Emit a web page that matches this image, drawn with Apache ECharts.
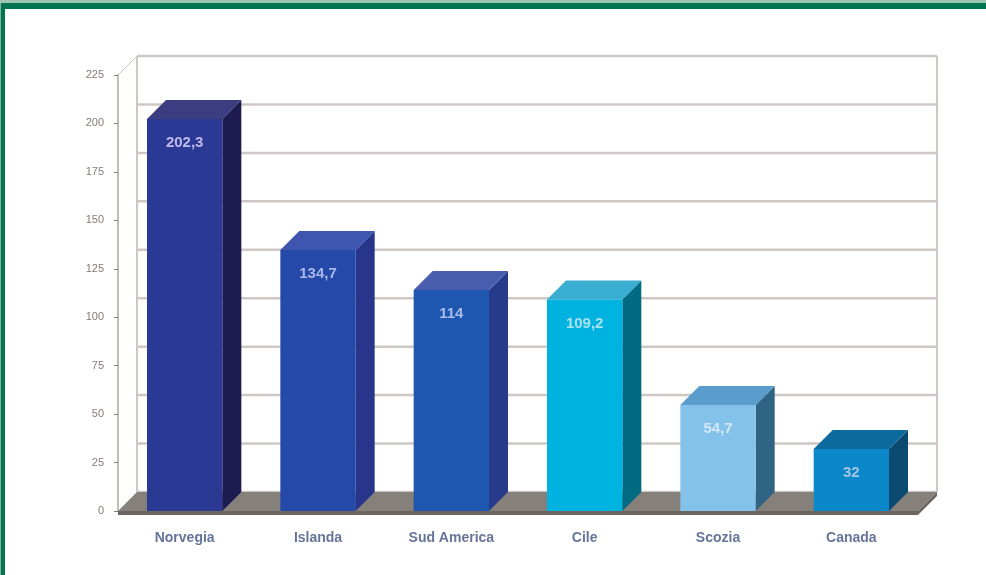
<!DOCTYPE html>
<html>
<head>
<meta charset="utf-8">
<script src="https://cdn.jsdelivr.net/npm/echarts@6/dist/echarts.min.js"></script>
<style>
html,body{margin:0;padding:0;background:#fff;}
#c{width:986px;height:575px;}
</style>
</head>
<body>
<div id="c"></div>
<script>
const categories = ['Norvegia', 'Islanda', 'Sud America', 'Cile', 'Scozia', 'Canada'];
const values = [202.3, 134.7, 114, 109.2, 54.7, 32];
const valueLabels = ['202,3', '134,7', '114', '109,2', '54,7', '32'];
const yTicks = [0, 25, 50, 75, 100, 125, 150, 175, 200, 225];

const frontColors = ['#2a3994', '#2449a8', '#1f56b0', '#00b2df', '#84c2ea', '#0a88c9'];
const sideColors  = ['#1d1b50', '#27358a', '#283a8a', '#006b82', '#2f6484', '#0b4a70'];
const topColors   = ['#3b3d80', '#3f56b0', '#4a5eb0', '#3aaed0', '#5a9ccb', '#0c6a9c'];
const labelColors = ['#c0b8e8', '#a8b8e8', '#a8bce8', '#a8e2f2', '#d4e6f6', '#a8c4e4'];

const DX = 19, DY = -19;

const chart = echarts.init(document.getElementById('c'));
chart.setOption({
  animation: false,
  backgroundColor: '#ffffff',
  grid: { left: 118, right: 68, top: 75, bottom: 64 },
  xAxis: {
    type: 'category',
    data: categories,
    axisLine: { show: false },
    axisTick: { show: false },
    axisLabel: { margin: 20, color: '#66749a', fontSize: 14, fontWeight: 'bold', fontFamily: 'Liberation Sans' }
  },
  yAxis: {
    type: 'value',
    min: 0, max: 225, interval: 25,
    axisLine: { show: true, lineStyle: { color: '#c4bcb8', width: 2 } },
    axisTick: { show: true, length: 4, lineStyle: { color: '#8a8280' } },
    axisLabel: { margin: 14, color: '#857b78', fontSize: 11, fontFamily: 'Liberation Sans' },
    splitLine: { show: false }
  },
  graphic: [
    { type: 'rect', shape: { x: 0, y: 0, width: 986, height: 3 }, style: { fill: '#9ec5b2' }, z: 100 },
    { type: 'rect', shape: { x: 0, y: 3, width: 986, height: 6 }, style: { fill: '#00754f' }, z: 100 },
    { type: 'rect', shape: { x: 0, y: 3, width: 5, height: 572 }, style: { fill: '#00754f' }, z: 100 },
    { type: 'rect', shape: { x: 0, y: 3, width: 1, height: 572 }, style: { fill: '#7fb39b' }, z: 101 }
  ],
  series: [
    {
      type: 'custom',
      z: 1,
      data: yTicks.map(v => [0, v]),
      renderItem: function (params, api) {
        const cs = params.coordSys;
        const y = api.coord([0, api.value(1)])[1];
        const children = [{
          type: 'line',
          shape: { x1: cs.x + DX, y1: y + DY, x2: cs.x + cs.width + DX, y2: y + DY },
          style: { stroke: '#cfc7c4', lineWidth: 2.5 }
        }];
        if (params.dataIndex === 0) {
          const yTop = api.coord([0, yTicks[yTicks.length - 1]])[1];
          children.push({
            type: 'line',
            shape: { x1: cs.x + DX, y1: yTop + DY, x2: cs.x + DX, y2: y + DY },
            style: { stroke: '#cdc6c3', lineWidth: 2 }
          });
          children.push({
            type: 'line',
            shape: { x1: cs.x + cs.width + DX, y1: yTop + DY, x2: cs.x + cs.width + DX, y2: y + DY },
            style: { stroke: '#cdc6c3', lineWidth: 2 }
          });
          children.push({
            type: 'line',
            shape: { x1: cs.x, y1: yTop, x2: cs.x + DX, y2: yTop + DY },
            style: { stroke: '#cdc6c3', lineWidth: 1 }
          });
          children.push({
            type: 'polygon',
            shape: { points: [[cs.x, y], [cs.x + DX, y + DY], [cs.x + cs.width + DX, y + DY], [cs.x + cs.width, y]] },
            style: { fill: '#858079' }
          });
          children.push({
            type: 'rect',
            shape: { x: cs.x, y: y, width: cs.width, height: 4 },
            style: { fill: '#6c6662' }
          });
          children.push({
            type: 'polygon',
            shape: { points: [[cs.x + cs.width, y], [cs.x + cs.width + DX, y + DY], [cs.x + cs.width + DX, y + DY + 4], [cs.x + cs.width, y + 4]] },
            style: { fill: '#6c6662' }
          });
        }
        return { type: 'group', children: children };
      }
    },
    {
      type: 'custom',
      z: 5,
      data: values.map((v, i) => [i, v]),
      renderItem: function (params, api) {
        const i = params.dataIndex;
        const base = api.coord([api.value(0), 0]);
        const top = api.coord([api.value(0), api.value(1)]);
        const w = api.size([1, 0])[0] * 0.565;
        const x = base[0] - w / 2;
        const yt = top[1], yb = base[1];
        return {
          type: 'group',
          children: [
            { type: 'polygon', shape: { points: [[x + w, yt], [x + w + DX, yt + DY], [x + w + DX, yb + DY], [x + w, yb]] }, style: { fill: sideColors[i] } },
            { type: 'polygon', shape: { points: [[x, yt], [x + DX, yt + DY], [x + w + DX, yt + DY], [x + w, yt]] }, style: { fill: topColors[i] } },
            { type: 'rect', shape: { x: x, y: yt, width: w, height: yb - yt }, style: { fill: frontColors[i] } },
            { type: 'text', x: x + w / 2, y: yt + 24, style: { text: valueLabels[i], fill: labelColors[i], font: 'bold 15px "Liberation Sans"', align: 'center', verticalAlign: 'middle' } }
          ]
        };
      }
    }
  ]
});
</script>
</body>
</html>
